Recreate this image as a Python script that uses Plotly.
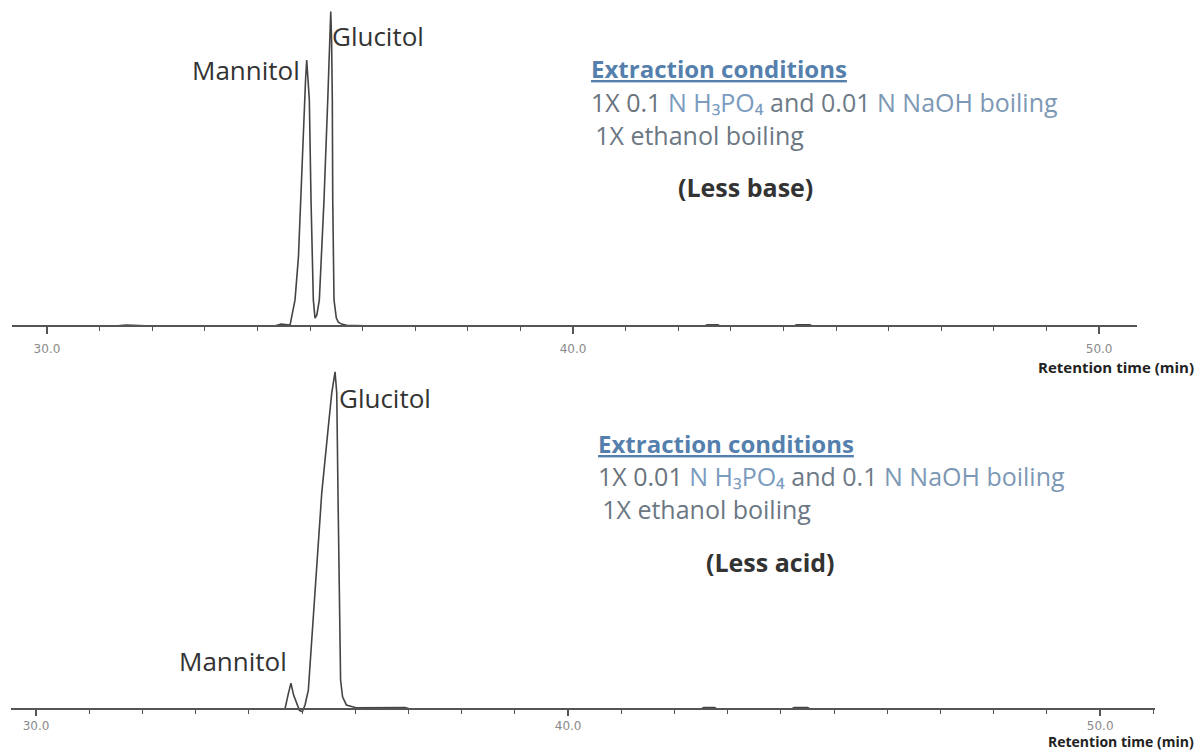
import plotly.graph_objects as go

W, H = 1197, 751

# ---- data ----
# Upper chromatogram (less base): retention time (min) and detector signal (a.u.)
top_time = [29.34, 30.5, 31.3, 31.5, 32.0, 34.33, 34.45, 34.62, 34.715, 34.78, 34.823, 34.886,
            34.915, 34.937, 34.96, 34.987, 35.019, 35.063, 35.095, 35.13, 35.177, 35.266,
            35.337, 35.37, 35.394, 35.41, 35.424, 35.432, 35.456, 35.5, 35.538, 35.6, 35.698,
            36.2, 42.5, 42.55, 42.75, 42.8, 44.2, 44.25, 44.5, 44.55, 50.72]
top_signal = [0.0, 0.0, 0.0, 0.3, 0.0, 0.0, 0.6, 0.3, 8.3, 22.0, 40.1, 72.0,
              78.3, 84.7, 78.3, 72.0, 40.1, 8.3, 2.5, 3.5, 8.3, 40.1,
              72.0, 91.1, 100.1, 91.1, 72.0, 40.1, 8.3, 2.5, 1.2, 0.6, 0.2,
              0.0, 0.0, 0.4, 0.4, 0.0, 0.0, 0.4, 0.4, 0.0, 0.0]

# Lower chromatogram (less acid)
bot_time = [29.53, 34.68, 34.737, 34.791, 34.84, 34.898, 34.95, 35.006, 35.056, 35.118,
            35.201, 35.276, 35.37, 35.494, 35.558, 35.62, 35.652, 35.677, 35.701,
            35.724, 35.761, 35.833, 36.013, 36.936, 37.03, 42.5, 42.55, 42.75, 42.8,
            44.2, 44.25, 44.5, 44.55, 51.03]
bot_signal = [0.0, 0.1, 4.2, 7.7, 4.2, 1.5, -0.4, -0.8, 1.2, 5.6,
              24.4, 44.2, 64.1, 83.8, 93.8, 100.1, 93.8, 62.0, 26.4,
              8.6, 3.6, 1.2, 0.36, 0.45, 0.0, 0.0, 0.4, 0.4, 0.0,
              0.0, 0.4, 0.4, 0.0, 0.0]

tick_vals = [30, 40, 50]
tick_text = ["30.0", "40.0", "50.0"]

peak_labels_top = ["Mannitol", "Glucitol"]
peak_labels_bot = ["Mannitol", "Glucitol"]
heading = "Extraction conditions"
top_cond = [("1X 0.1 ", "#6a737c"), ("N H₃PO₄ ", "#7b9bbf"),
            ("and 0.01 ", "#6d7a86"), ("N NaOH boiling", "#7d98b4")]
bot_cond = [("1X 0.01 ", "#6a737c"), ("N H₃PO₄ ", "#7b9bbf"),
            ("and 0.1 ", "#6d7a86"), ("N NaOH boiling", "#7d98b4")]
line3 = "1X ethanol boiling"
top_note = "(Less base)"
bot_note = "(Less acid)"
axis_title = "Retention time (min)"


def px(x):
    return x / W


def py(y):
    return 1 - y / H


fig = go.Figure()
line_style = dict(color="#444444", width=1.6)
fig.add_trace(go.Scatter(x=top_time, y=top_signal, mode="lines", line=line_style,
                         xaxis="x", yaxis="y", hoverinfo="skip"))
fig.add_trace(go.Scatter(x=bot_time, y=bot_signal, mode="lines", line=line_style,
                         xaxis="x2", yaxis="y2", hoverinfo="skip"))

axis_common = dict(
    showline=True, linecolor="#555555", linewidth=1.5, showgrid=False, zeroline=False,
    ticks="outside", tickwidth=1.5, tickcolor="#555555",
    tickvals=tick_vals, ticktext=tick_text,
    tickfont=dict(family="DejaVu Sans", size=12, color="#8a8a8a"),
    minor=dict(tick0=30, dtick=1, ticks="outside", ticklen=4, tickwidth=1.2,
               tickcolor="#555555", showgrid=False),
)

fig.update_layout(
    width=W, height=H,
    margin=dict(l=0, r=0, t=0, b=0),
    paper_bgcolor="white", plot_bgcolor="white",
    showlegend=False,
    xaxis=dict(domain=[px(12), px(1137)], range=[29.335, 50.72], anchor="free",
               position=py(326), ticklen=7, ticklabelstandoff=5, **axis_common),
    yaxis=dict(domain=[py(340), 1.0], range=[-4.46, 103.8], visible=False),
    xaxis2=dict(domain=[px(11), px(1155)], range=[29.53, 51.03], anchor="free",
                position=py(709), ticklen=6, ticklabelstandoff=0, **axis_common),
    yaxis2=dict(domain=[py(740), py(360)], range=[-9.2, 103.6], visible=False),
)

label_font = dict(family="Open Sans", size=26, color="#333333")
cond_size = 25

ann = []


def add(text, x, y, font, xanchor="left"):
    ann.append(dict(text=text, x=px(x), y=py(y), xref="paper", yref="paper",
                    xanchor=xanchor, yanchor="middle", showarrow=False, font=font,
                    align="left"))


# peak labels
add(peak_labels_top[0], 302, 70, label_font, "right")
add(peak_labels_top[1], 330, 36, label_font)
add(peak_labels_bot[1], 337, 398, label_font)
add(peak_labels_bot[0], 289, 661, label_font, "right")

# condition text blocks
for (x0, y0, cond, note, xn) in [(589, 68, top_cond, top_note, 745),
                                 (596, 443, bot_cond, bot_note, 770)]:
    add("<u><b>" + heading + "</b></u>", x0, y0,
        dict(family="Open Sans", size=24, color="#5580ad"))
    body = ("".join(f"<span style='color:{c}'>{t}</span>" for t, c in cond)
            + "<br><span style='color:#6b7783'>\u2009" + line3 + "</span>")
    add(body, x0, y0 + 50, dict(family="Open Sans", size=cond_size, color="#6d7a86"))
    add("<b>" + note + "</b>", xn, y0 + 119, dict(family="Open Sans", size=25, color="#333333"),
        "center")

# axis titles
add("<b>" + axis_title + "</b>", 1196, 367, dict(family="Open Sans", size=15, color="#222222"), "right")
add("<b>" + axis_title + "</b>", 1196, 741.5, dict(family="Open Sans", size=14, color="#222222"), "right")

fig.update_layout(annotations=ann)
fig.write_html("out.html")
